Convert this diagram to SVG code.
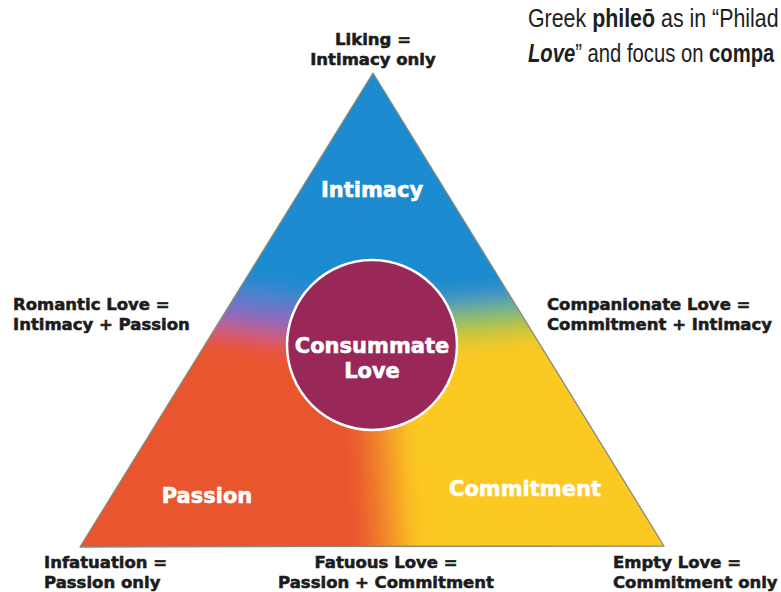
<svg xmlns="http://www.w3.org/2000/svg" width="781" height="592" viewBox="0 0 781 592">
  <style>
    .lbl { font-family: "DejaVu Sans", "Liberation Sans", sans-serif; font-weight: bold; font-size: 16.5px; fill: #1c1c1c; stroke: #1c1c1c; stroke-width: 0.55px; }
    .big { font-family: "DejaVu Sans", "Liberation Sans", sans-serif; font-weight: bold; font-size: 21px; fill: #ffffff; stroke: #ffffff; stroke-width: 0.6px; text-anchor: middle; }
    .note { font-family: "Liberation Sans", Arial, sans-serif; font-size: 25px; fill: #1e1e1e; }
    .mid { text-anchor: middle; }
  </style>
  <defs>
    <clipPath id="triClip">
      <polygon points="373,73 80,547 664,546"/>
    </clipPath>
    <filter id="soft" filterUnits="userSpaceOnUse" x="-200" y="-200" width="1200" height="1000">
      <feGaussianBlur stdDeviation="13"/>
    </filter>
  </defs>

  <rect width="781" height="592" fill="#ffffff"/>

  <!-- quotation at top right, cut by the page edge -->
  <g id="note">
    <text class="note" transform="translate(528,27) scale(0.855,1)">Greek <tspan font-weight="bold">phileō</tspan> as in “Philad</text>
    <text class="note" transform="translate(528,62) scale(0.81,1)"><tspan font-weight="bold" font-style="italic">Love</tspan>” and focus on <tspan font-weight="bold">compa</tspan></text>
  </g>

  <!-- three blended colour fields inside the triangle -->
  <g id="triangle">
    <g clip-path="url(#triClip)">
      <g filter="url(#soft)">
        <polygon points="372,330 -100,270 -100,-100 900,-100 900,285" fill="#1a8bcf"/>
        <polygon points="372,330 -100,270 -100,700 398,700" fill="#e9552f"/>
        <polygon points="372,330 398,700 900,700 900,285" fill="#fcc923"/>
        <line x1="372" y1="330" x2="-100" y2="268" stroke="#7b6ac6" stroke-width="30"/>
        <line x1="372" y1="330" x2="900" y2="285" stroke="#8ec34a" stroke-width="28"/>
        <line x1="376" y1="330" x2="400" y2="700" stroke="#f38a2a" stroke-width="30"/>
      </g>
    </g>
    <polygon points="373,73 80,547 664,546" fill="none" stroke="#8a8a78" stroke-width="1.3" stroke-linejoin="round"/>
  </g>

  <g id="intimacy"><text class="big" x="372" y="197">Intimacy</text></g>
  <g id="passion"><text class="big" x="207" y="503">Passion</text></g>
  <g id="commitment"><text class="big" x="525" y="496" fill="#fffbe8">Commitment</text></g>

  <g id="consummate">
    <circle cx="372" cy="345" r="85" fill="#992858" stroke="#ffffff" stroke-width="2.5"/>
    <text class="big" x="372" y="353">Consummate</text>
    <text class="big" x="372" y="378">Love</text>
  </g>

  <g id="liking">
    <text class="lbl mid" x="373" y="45">Liking =</text>
    <text class="lbl mid" x="373" y="65">Intimacy only</text>
  </g>
  <g id="romantic">
    <text class="lbl" x="13" y="310">Romantic Love =</text>
    <text class="lbl" x="13" y="330">Intimacy + Passion</text>
  </g>
  <g id="companionate">
    <text class="lbl" x="547" y="310">Companionate Love =</text>
    <text class="lbl" x="547" y="330">Commitment + Intimacy</text>
  </g>
  <g id="infatuation">
    <text class="lbl" x="44" y="568">Infatuation =</text>
    <text class="lbl" x="44" y="588">Passion only</text>
  </g>
  <g id="fatuous">
    <text class="lbl mid" x="386" y="568">Fatuous Love =</text>
    <text class="lbl mid" x="386" y="588">Passion + Commitment</text>
  </g>
  <g id="empty">
    <text class="lbl" x="613" y="568">Empty Love =</text>
    <text class="lbl" x="613" y="588">Commitment only</text>
  </g>
</svg>
